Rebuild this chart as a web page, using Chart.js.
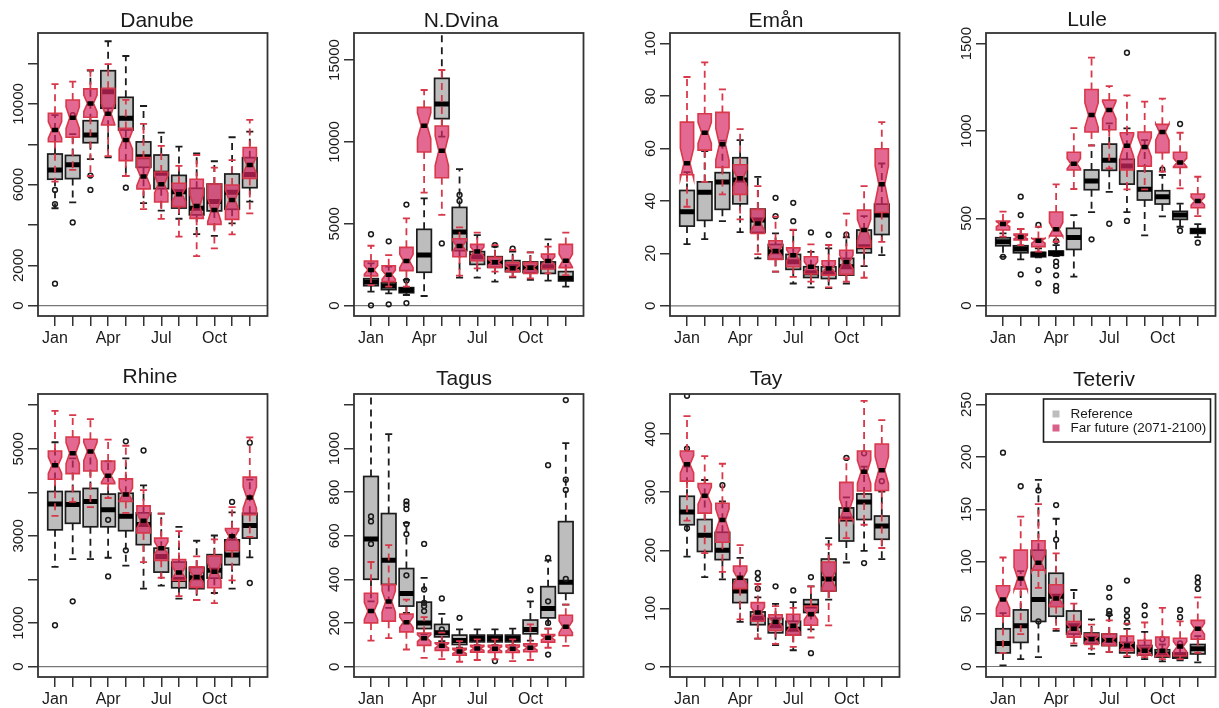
<!DOCTYPE html>
<html>
<head>
<meta charset="utf-8">
<title>Monthly discharge</title>
<script src="https://cdn.jsdelivr.net/npm/chart.js@4/dist/chart.umd.min.js"></script>
<style>
  html, body { margin: 0; background: #fff; overflow: hidden; }
  #page { position: relative; width: 1219px; height: 708px; overflow: hidden; filter: blur(0.4px); }
  canvas { position: absolute; }
</style>
</head>
<body>
<div id="page"></div>
<script>
const months = ["Jan", "Feb", "Mar", "Apr", "May", "Jun", "Jul", "Aug", "Sep", "Oct", "Nov", "Dec"];
const shownMonths = ["Jan", "Apr", "Jul", "Oct"];
const legendLabels = ["Reference", "Far future (2071-2100)"];

// each row is one month: low whisker, Q1, median, Q3, high whisker
const danubeRef = [
  [4830, 6270, 6730, 7520, 9450], [5120, 6300, 6990, 7450, 8510], [7270, 8080, 8460, 9170, 11650],
  [7360, 9790, 10610, 11650, 13110], [6430, 8710, 9290, 10330, 12380], [5080, 6860, 7390, 8120, 9900],
  [4710, 5800, 6560, 7470, 8580], [4310, 4840, 5650, 6460, 7890], [3550, 4500, 4830, 5820, 7550],
  [3460, 4700, 5160, 6030, 7160], [4080, 4780, 5620, 6530, 8350], [5160, 5850, 6510, 7340, 8630]
];
const danubeFut = [
  [6150, 8130, 8710, 9540, 10990], [6730, 8350, 9320, 10200, 11110], [6430, 9340, 10030, 10750, 11690],
  [7420, 8960, 9510, 10780, 11980], [6430, 7190, 8220, 8790, 10200], [4790, 5790, 6400, 7340, 9010],
  [4300, 5140, 6020, 6630, 7920], [3420, 4910, 5520, 6070, 6930], [2460, 4330, 4940, 6270, 7470],
  [2840, 4030, 4740, 6030, 6840], [3540, 4280, 5240, 5980, 7220], [4580, 6310, 6980, 7840, 9210]
];
const danubeOut = [[1, 5740], [1, 5040], [1, 1090], [2, 4130], [2, 9450], [3, 6450], [3, 5740], [5, 5850]];

const dvinaRef = [
  [860, 1220, 1450, 1650, 2580], [750, 980, 1200, 1400, 2380], [650, 790, 960, 1100, 1570],
  [590, 2040, 3090, 4660, 6550], [10320, 11420, 12310, 13880, 17500], [1710, 3360, 4500, 6000, 8340],
  [1710, 2520, 2990, 3300, 4310], [1470, 2340, 2650, 2990, 3600], [1730, 2080, 2380, 2750, 3300],
  [1570, 2020, 2320, 2670, 3260], [1530, 1970, 2380, 2670, 4050], [1160, 1510, 1670, 2080, 2790]
];
const dvinaFut = [
  [1260, 1810, 2180, 2730, 3660], [1160, 1470, 1890, 2440, 3090], [1160, 2140, 2730, 3560, 5330],
  [6900, 9380, 10990, 12110, 13170], [5540, 7810, 9460, 10970, 14390], [1830, 2990, 3640, 4090, 4780],
  [2280, 2750, 3300, 3740, 4460], [2080, 2340, 2650, 2950, 3700], [1770, 2080, 2280, 2630, 3400],
  [1670, 1970, 2320, 2630, 3260], [1970, 2240, 2730, 3150, 3600], [1870, 2320, 2750, 3740, 4460]
];
const dvinaOut = [
  [1, 4360], [1, 20], [2, 3930], [2, 80], [3, 6170], [3, 1530], [3, 160], [5, 3800],
  [6, 6760], [6, 6390], [8, 3700], [9, 3480]
];

const emanRef = [
  [23.5, 30.4, 35.9, 44, 51], [25.4, 32.6, 43.3, 47.3, 59], [32.3, 36.8, 47.2, 50.8, 63],
  [28.1, 38.9, 48, 56.5, 63.2], [18.1, 28, 32.7, 36.9, 49.2], [13, 17.8, 20.6, 23.4, 27.6],
  [8.5, 13.9, 16.8, 19.6, 28.9], [7, 10.8, 12.6, 14.9, 20.6], [6.7, 10.4, 12.3, 14.9, 21.9],
  [8.5, 11.7, 14.9, 18.1, 26.1], [15.1, 20.2, 22.5, 28.9, 34.2], [19.3, 27.2, 34.6, 38.8, 54.3]
];
const emanFut = [
  [37.8, 50, 54.4, 70.1, 87.3], [47.3, 59.4, 66, 73.3, 92.9], [42.5, 52.8, 61.6, 73.8, 82.6],
  [33, 42.5, 48.7, 53.8, 67.4], [19.7, 27.6, 31.4, 36.8, 45.7], [13, 17.7, 20.9, 24.8, 34],
  [11, 14.9, 19.3, 22.1, 29.1], [9.2, 12.1, 14.9, 18.7, 23.4], [7, 11.7, 14.2, 17.2, 23.2],
  [9.2, 12, 16.7, 21.2, 35.2], [10.7, 22.3, 28.9, 36.5, 45.7], [24.4, 35.6, 46.4, 59.9, 70.1]
];
const emanOut = [[6, 41.2], [6, 34.2], [7, 39.3], [7, 32.3], [8, 28], [9, 27.1], [10, 27.1]];

const luleRef = [
  [280, 343, 366, 389, 414], [265, 303, 324, 343, 439], [277, 280, 294, 305, 328],
  [284, 288, 300, 313, 347], [166, 322, 391, 443, 519], [536, 664, 714, 777, 918],
  [651, 775, 832, 925, 1044], [536, 696, 799, 838, 1015], [403, 605, 666, 771, 948],
  [511, 582, 624, 658, 748], [452, 494, 519, 540, 584], [393, 414, 427, 441, 467]
];
const luleFut = [
  [395, 433, 467, 485, 538], [347, 376, 393, 410, 439], [309, 338, 372, 385, 452],
  [366, 399, 437, 536, 694], [668, 777, 813, 878, 1017], [916, 994, 1091, 1238, 1420],
  [786, 1007, 1120, 1177, 1257], [666, 777, 916, 990, 1204], [666, 799, 908, 994, 1168],
  [767, 876, 994, 1038, 1185], [672, 792, 820, 878, 990], [513, 561, 599, 639, 738]
];
const luleOut = [
  [1, 280], [2, 624], [2, 519], [2, 179], [3, 462], [3, 204], [3, 128], [4, 370], [4, 252],
  [4, 227], [4, 174], [4, 113], [4, 86], [6, 380], [7, 469], [8, 1448], [8, 485],
  [10, 780], [11, 1040], [11, 429], [12, 361]
];

const rhineRef = [
  [2290, 3140, 3730, 4020, 5150], [2470, 3290, 3720, 4020, 4780], [2470, 3210, 3790, 4090, 4940],
  [2500, 3210, 3600, 3960, 4710], [2320, 3120, 3450, 3980, 4780], [1790, 2800, 3260, 3530, 4160],
  [1860, 2170, 2530, 2720, 3510], [1560, 1810, 2000, 2400, 3210], [1530, 1790, 2040, 2280, 2890],
  [1690, 2030, 2210, 2570, 3010], [1790, 2340, 2560, 2910, 3540], [2510, 2950, 3240, 3520, 4290]
];
const rhineFut = [
  [3460, 4300, 4620, 4950, 5870], [3780, 4430, 4900, 5270, 5770], [3660, 4490, 4940, 5220, 5680],
  [3870, 4200, 4380, 4720, 5210], [3530, 3790, 3950, 4310, 5070], [2400, 3070, 3350, 3690, 4050],
  [2040, 2440, 2720, 2950, 3510], [1620, 1980, 2160, 2460, 3110], [1530, 1820, 2060, 2290, 2530],
  [1460, 1810, 2180, 2540, 2920], [1980, 2660, 2990, 3170, 3660], [2980, 3490, 3880, 4350, 5260]
];
const rhineOut = [
  [1, 950], [2, 1500], [4, 3370], [4, 2070], [5, 5170], [5, 2670], [6, 4960],
  [11, 3780], [12, 1920], [12, 5140]
];

const tagusRef = [
  [300, 401, 586, 872, 1300], [270, 377, 488, 702, 1066], [247, 278, 336, 450, 659],
  [148, 175, 201, 296, 407], [117, 137, 156, 194, 242], [87, 102, 120, 145, 171],
  [99, 114, 130, 145, 171], [99, 114, 130, 145, 171], [99, 114, 130, 145, 175],
  [120, 151, 171, 214, 300], [175, 224, 267, 367, 486], [285, 337, 387, 665, 1025]
];
const tagusFut = [
  [120, 201, 255, 337, 480], [131, 209, 299, 377, 557], [79, 160, 204, 242, 308],
  [41, 98, 131, 154, 227], [35, 75, 96, 110, 156], [23, 53, 70, 84, 117],
  [31, 67, 84, 98, 125], [34, 66, 82, 98, 125], [26, 66, 82, 99, 125],
  [31, 69, 87, 105, 194], [87, 113, 133, 148, 175], [96, 143, 183, 236, 285]
];
const tagusOut = [
  [1, 689], [1, 666], [1, 563], [3, 758], [3, 743], [3, 723], [3, 654], [3, 608], [3, 419],
  [4, 563], [4, 354], [4, 293], [4, 278], [4, 255], [5, 313], [5, 171], [6, 224], [8, 26],
  [10, 351], [11, 924], [11, 499], [11, 300], [11, 201], [11, 56],
  [12, 1222], [12, 857], [12, 810], [12, 403]
];

const tayRef = [
  [189, 244, 266, 293, 344], [154, 198, 226, 253, 321], [150, 184, 200, 231, 284],
  [77, 110, 130, 150, 187], [48, 72, 83, 94, 119], [37, 58, 70, 83, 108],
  [28, 54, 64, 78, 111], [64, 93, 104, 115, 138], [115, 130, 151, 185, 221],
  [179, 216, 254, 273, 291], [199, 253, 283, 297, 344], [185, 219, 242, 259, 301]
];
const tayFut = [
  [251, 319, 348, 371, 431], [195, 264, 294, 315, 362], [163, 214, 252, 281, 349],
  [81, 134, 153, 173, 209], [48, 78, 93, 110, 142], [39, 62, 77, 89, 104],
  [34, 54, 70, 90, 101], [50, 71, 90, 104, 138], [71, 130, 150, 180, 210],
  [221, 253, 270, 317, 358], [244, 302, 335, 371, 457], [204, 303, 338, 383, 424]
];
const tayOut = [
  [1, 466], [1, 375], [1, 238], [3, 312], [5, 161], [5, 151], [5, 134], [6, 138], [7, 131],
  [8, 154], [8, 23], [10, 359], [11, 367], [11, 178], [12, 319]
];

const teterivRef = [
  [1, 13, 22, 36, 51], [7, 23, 39, 54, 91], [9, 43, 64, 111, 178],
  [34, 48, 67, 89, 141], [20, 31, 39, 53, 73], [12, 22, 27, 32, 45],
  [14, 20, 25, 31, 49], [9, 13, 19, 23, 36], [7, 11, 16, 20, 33],
  [5, 9, 12, 16, 21], [6, 8, 11, 13, 21], [4, 12, 17, 21, 29]
];
const teterivFut = [
  [13, 48, 64, 77, 104], [31, 74, 84, 111, 143], [75, 92, 99, 120, 155],
  [36, 57, 65, 78, 108], [22, 28, 36, 43, 60], [17, 21, 26, 31, 40],
  [14, 20, 25, 31, 44], [10, 15, 20, 29, 41], [9, 11, 15, 25, 42],
  [7, 10, 15, 28, 56], [7, 10, 19, 27, 43], [13, 26, 36, 44, 66]
];
const teterivOut = [
  [1, 204], [2, 172], [3, 168], [3, 43], [4, 154], [4, 121], [7, 75], [7, 66], [7, 53], [7, 50],
  [8, 82], [8, 54], [8, 48], [8, 42], [9, 58], [9, 49], [10, 26], [11, 54], [11, 47], [11, 22],
  [12, 85], [12, 80], [12, 74]
];

const danubeTicks = [0, 2000, 4000, 6000, 8000, 10000, 12000];
const danubeLabels = [0, 2000, 6000, 10000];
const dvinaTicks = [0, 5000, 10000, 15000];
const emanTicks = [0, 20, 40, 60, 80, 100];
const luleTicks = [0, 500, 1000, 1500];
const rhineTicks = [0, 1000, 2000, 3000, 4000, 5000, 6000];
const rhineLabels = [0, 1000, 3000, 5000];
const tagusTicks = [0, 200, 400, 600, 800, 1000, 1200];
const tagusLabels = [0, 200, 400, 600, 800, 1000];
const tayTicks = [0, 100, 200, 300, 400];
const teterivTicks = [0, 50, 100, 150, 200, 250];

const panels = [
  { name: "Danube", ref: danubeRef, fut: danubeFut, out: danubeOut, ticks: danubeTicks, labels: danubeLabels, yMin: -512, yMax: 13520, left: 38, top: 33, titleX: 157, titleY: 22 },
  { name: "N.Dvina", ref: dvinaRef, fut: dvinaFut, out: dvinaOut, ticks: dvinaTicks, labels: dvinaTicks, yMin: -631, yMax: 16650, left: 354, top: 33, titleX: 461, titleY: 22 },
  { name: "Emån", ref: emanRef, fut: emanFut, out: emanOut, ticks: emanTicks, labels: emanTicks, yMin: -3.9, yMax: 104.1, left: 670, top: 33, titleX: 776, titleY: 22 },
  { name: "Lule", ref: luleRef, fut: luleFut, out: luleOut, ticks: luleTicks, labels: luleTicks, yMin: -59, yMax: 1561, left: 986, top: 33, titleX: 1087, titleY: 21 },
  { name: "Rhine", ref: rhineRef, fut: rhineFut, out: rhineOut, ticks: rhineTicks, labels: rhineLabels, yMin: -237, yMax: 6257, left: 38, top: 394, titleX: 150, titleY: 378 },
  { name: "Tagus", ref: tagusRef, fut: tagusFut, out: tagusOut, ticks: tagusTicks, labels: tagusLabels, yMin: -47, yMax: 1250, left: 354, top: 394, titleX: 464, titleY: 380 },
  { name: "Tay", ref: tayRef, fut: tayFut, out: tayOut, ticks: tayTicks, labels: tayTicks, yMin: -18, yMax: 469, left: 670, top: 394, titleX: 766, titleY: 380 },
  { name: "Teteriv", ref: teterivRef, fut: teterivFut, out: teterivOut, ticks: teterivTicks, labels: teterivTicks, yMin: -10, yMax: 260, left: 986, top: 394, titleX: 1104, titleY: 381, legend: true }
];

const plotWidth = 231;
const plotHeight = 283;
const axisLeft = 38;     // room kept left of each plot for ticks and labels
const axisBottom = 40;
const rightPad = 4;
const FONT = '"Liberation Sans", Arial, sans-serif';
const INK = "#1c1c1c";
const GREY_FILL = "#bdbdbd";
const RED_LINE = "#d8384a";
const RED_FILL = "rgba(215, 40, 100, 0.7)";

// whisker, staple and plain box for one month, in data units through the scales
const drawWhiskers = (ctx, x, y, i, row, halfStaple, color) => {
  const cx = x.getPixelForValue(i + 1);
  const dx = x.getPixelForValue(i + 1 + halfStaple) - cx;
  const [low, q1, , q3, high] = row;
  ctx.strokeStyle = color;
  ctx.lineWidth = 1.8;
  ctx.setLineDash([7, 5]);
  ctx.beginPath();
  ctx.moveTo(cx, y.getPixelForValue(q3));
  ctx.lineTo(cx, y.getPixelForValue(high));
  ctx.moveTo(cx, y.getPixelForValue(q1));
  ctx.lineTo(cx, y.getPixelForValue(low));
  ctx.stroke();
  ctx.setLineDash([]);
  ctx.beginPath();
  ctx.moveTo(cx - dx, y.getPixelForValue(high));
  ctx.lineTo(cx + dx, y.getPixelForValue(high));
  ctx.moveTo(cx - dx, y.getPixelForValue(low));
  ctx.lineTo(cx + dx, y.getPixelForValue(low));
  ctx.stroke();
};

const drawRefBox = (ctx, x, y, i, row) => {
  const cx = x.getPixelForValue(i + 1);
  const hw = x.getPixelForValue(i + 1.41) - cx;
  const top = y.getPixelForValue(row[3]);
  const bottom = y.getPixelForValue(row[1]);
  ctx.fillStyle = GREY_FILL;
  ctx.strokeStyle = INK;
  ctx.lineWidth = 1.7;
  ctx.fillRect(cx - hw, top, hw * 2, bottom - top);
  ctx.strokeRect(cx - hw, top, hw * 2, bottom - top);
  ctx.strokeStyle = "#000";
  ctx.lineWidth = 5;
  ctx.beginPath();
  ctx.moveTo(cx - hw, y.getPixelForValue(row[2]));
  ctx.lineTo(cx + hw, y.getPixelForValue(row[2]));
  ctx.stroke();
};

// notch reaches median +- 1.58 IQR / sqrt(30), same as R's boxplot
const drawNotchBox = (ctx, x, y, i, row) => {
  const [, q1, med, q3] = row;
  const notch = 0.288 * (q3 - q1);
  const cx = x.getPixelForValue(i + 1);
  const hw = x.getPixelForValue(i + 1.375) - cx;
  const nw = hw * 0.45;
  ctx.beginPath();
  ctx.moveTo(cx - hw, y.getPixelForValue(q3));
  ctx.lineTo(cx + hw, y.getPixelForValue(q3));
  ctx.lineTo(cx + hw, y.getPixelForValue(med + notch));
  ctx.lineTo(cx + nw, y.getPixelForValue(med));
  ctx.lineTo(cx + hw, y.getPixelForValue(med - notch));
  ctx.lineTo(cx + hw, y.getPixelForValue(q1));
  ctx.lineTo(cx - hw, y.getPixelForValue(q1));
  ctx.lineTo(cx - hw, y.getPixelForValue(med - notch));
  ctx.lineTo(cx - nw, y.getPixelForValue(med));
  ctx.lineTo(cx - hw, y.getPixelForValue(med + notch));
  ctx.closePath();
  ctx.fillStyle = RED_FILL;
  ctx.fill();
  ctx.strokeStyle = RED_LINE;
  ctx.lineWidth = 1.6;
  ctx.stroke();
  ctx.strokeStyle = "#000";
  ctx.lineWidth = 4.5;
  ctx.beginPath();
  ctx.moveTo(cx - nw, y.getPixelForValue(med));
  ctx.lineTo(cx + nw, y.getPixelForValue(med));
  ctx.stroke();
};

const drawLegend = (ctx, area) => {
  // Teteriv only, placed inside its plot like the legend in the original
  const boxX = area.right - 172;
  const boxY = area.top + 5;
  ctx.fillStyle = "#fff";
  ctx.fillRect(boxX, boxY, 167, 43);
  ctx.strokeStyle = INK;
  ctx.lineWidth = 1.6;
  ctx.strokeRect(boxX, boxY, 167, 43);
  ctx.font = `13.5px ${FONT}`;
  ctx.textAlign = "left";
  ctx.textBaseline = "middle";
  legendLabels.forEach((label, k) => {
    const rowY = boxY + 15 + k * 14;
    ctx.fillStyle = k === 0 ? GREY_FILL : "#d9608a";
    ctx.fillRect(boxX + 9, rowY - 3.5, 7, 7);
    ctx.fillStyle = "#1a1a1a";
    ctx.fillText(label, boxX + 27, rowY);
  });
};

const boxPlugin = (panel) => ({
  id: "boxes",
  afterLayout(chart) {
    // R places each title on its own, so move the title block to the reference spot
    const canvasLeft = panel.left - axisLeft;
    chart.titleBlock.left = panel.titleX - canvasLeft - 100;
    chart.titleBlock.right = panel.titleX - canvasLeft + 100;
  },
  beforeDatasetsDraw(chart) {
    const { ctx, chartArea: area, scales: { x, y } } = chart;
    ctx.save();
    ctx.beginPath();
    ctx.rect(area.left, area.top, area.right - area.left, area.bottom - area.top);
    ctx.clip();
    ctx.strokeStyle = "#777";
    ctx.lineWidth = 1.2;
    ctx.beginPath();
    ctx.moveTo(area.left, y.getPixelForValue(0));
    ctx.lineTo(area.right, y.getPixelForValue(0));
    ctx.stroke();
    panel.ref.forEach((row, i) => {
      drawWhiskers(ctx, x, y, i, row, 0.2, INK);
      drawRefBox(ctx, x, y, i, row);
    });
    ctx.restore();
  },
  afterDatasetsDraw(chart) {
    const { ctx, chartArea: area, scales: { x, y } } = chart;
    ctx.save();
    ctx.beginPath();
    ctx.rect(area.left, area.top, area.right - area.left, area.bottom - area.top);
    ctx.clip();
    panel.fut.forEach((row, i) => {
      drawWhiskers(ctx, x, y, i, row, 0.2, RED_LINE);
      drawNotchBox(ctx, x, y, i, row);
    });
    ctx.restore();
    ctx.save();
    ctx.strokeStyle = "#333";
    ctx.lineWidth = 1.8;
    ctx.strokeRect(area.left, area.top, area.right - area.left, area.bottom - area.top);
    if (panel.legend) {
      drawLegend(ctx, area);
    }
    ctx.restore();
  }
});

const buildChart = (panel) => {
  const canvas = document.createElement("canvas");
  const canvasTop = panel.top < 300 ? 0 : 358;
  const titlePad = panel.titleY - canvasTop - 11;
  canvas.width = axisLeft + plotWidth + rightPad;
  canvas.height = panel.top - canvasTop + plotHeight + axisBottom;
  canvas.style.left = `${panel.left - axisLeft}px`;
  canvas.style.top = `${canvasTop}px`;
  document.getElementById("page").appendChild(canvas);

  const digits = String(Math.max(...panel.labels)).length;

  new Chart(canvas.getContext("2d"), {
    type: "scatter",
    data: {
      datasets: [{
        label: "Outliers",
        data: panel.out.map(([m, v]) => ({ x: m, y: v })),
        pointRadius: 2.4,
        pointBorderWidth: 1.5,
        pointBackgroundColor: "transparent",
        pointBorderColor: "#1a1a1a"
      }]
    },
    options: {
      responsive: false,
      animation: false,
      layout: { padding: { right: rightPad } },
      plugins: {
        legend: { display: false },
        tooltip: { enabled: false },
        title: {
          display: true,
          text: panel.name,
          color: "#1a1a1a",
          font: { family: FONT, size: 21, weight: "normal", lineHeight: 1 },
          padding: { top: titlePad, bottom: Math.max(0, panel.top - canvasTop - 21 - titlePad) }
        }
      },
      scales: {
        x: {
          type: "linear",
          min: 0.04,
          max: 13,
          afterBuildTicks: (scale) => { scale.ticks = months.map((_, i) => ({ value: i + 1 })); },
          afterFit: (scale) => { scale.height = axisBottom; },
          grid: { drawOnChartArea: false, tickLength: 10, color: "#333", lineWidth: 1.5 },
          border: { display: false },
          ticks: {
            autoSkip: false,
            maxRotation: 0,
            padding: 3,
            color: "#1a1a1a",
            font: { family: FONT, size: 16 },
            callback: (value) => {
              const m = months[value - 1];
              return shownMonths.includes(m) ? m : "";
            }
          }
        },
        y: {
          min: panel.yMin,
          max: panel.yMax,
          afterBuildTicks: (scale) => { scale.ticks = panel.ticks.map((v) => ({ value: v })); },
          afterFit: (scale) => { scale.width = axisLeft; },
          grid: { drawOnChartArea: false, tickLength: 10, color: "#333", lineWidth: 1.5 },
          border: { display: false },
          ticks: {
            autoSkip: false,
            minRotation: 90,
            maxRotation: 90,
            crossAlign: "center",
            padding: 9.5 - digits * 4.17,
            color: "#1a1a1a",
            font: { family: FONT, size: 15 },
            callback: (value) => (panel.labels.includes(value) ? String(value) : "")
          }
        }
      }
    },
    plugins: [boxPlugin(panel)]
  });
};

panels.forEach(buildChart);
</script>
</body>
</html>
